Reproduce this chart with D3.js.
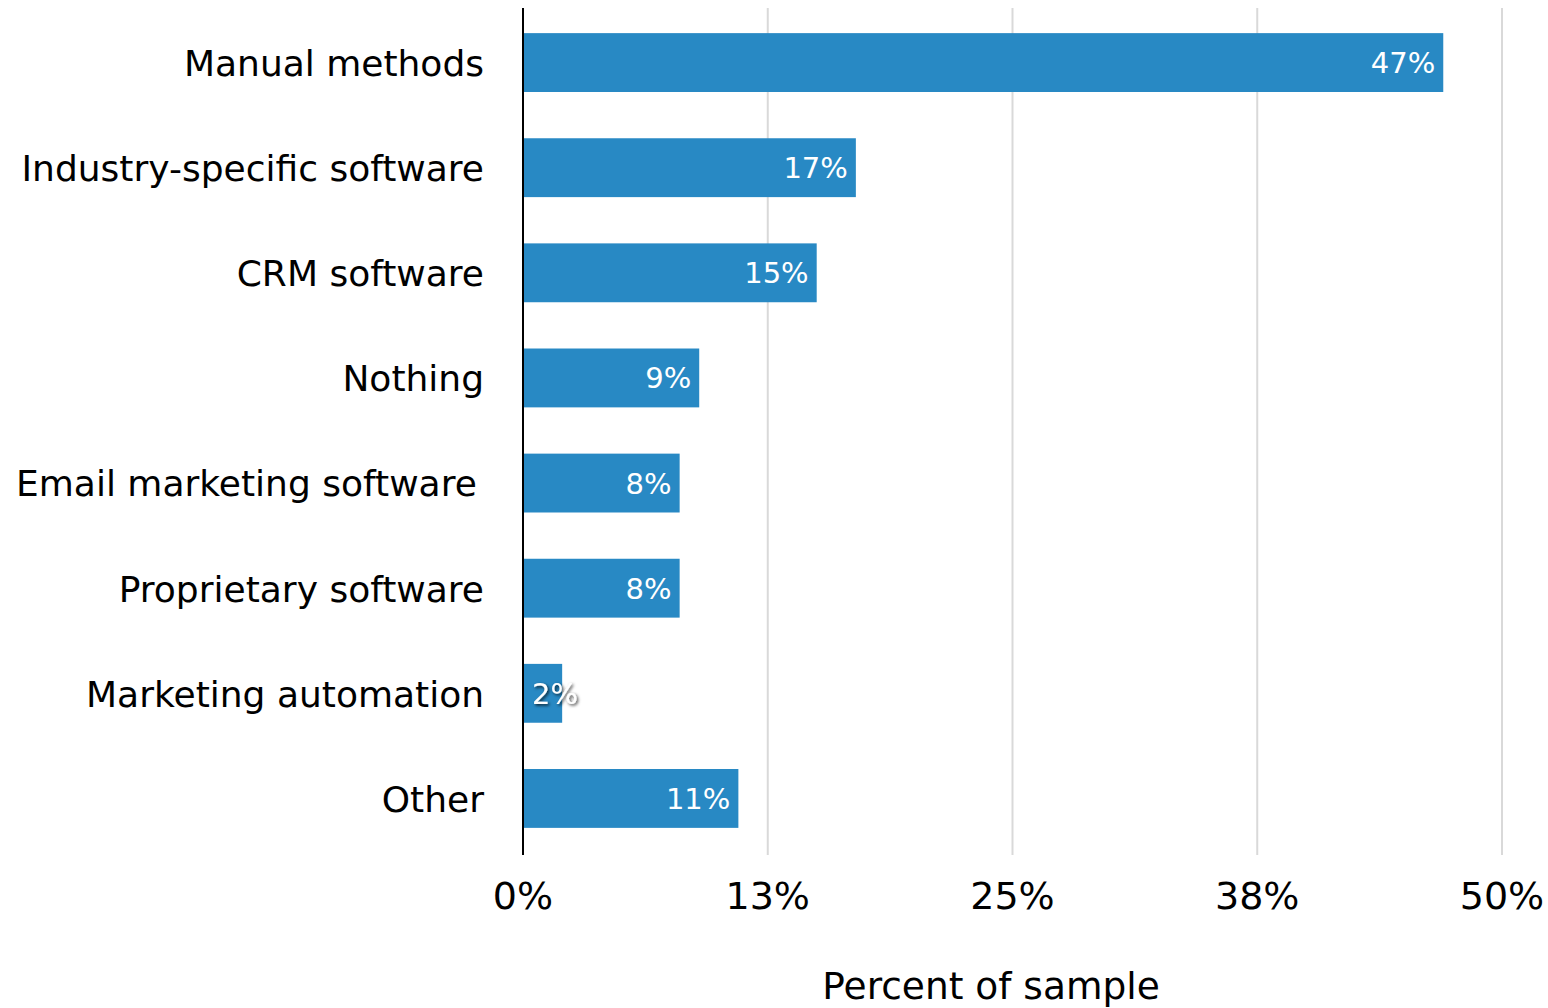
<!DOCTYPE html>
<html>
<head>
<meta charset="utf-8">
<script src="https://cdn.jsdelivr.net/npm/d3@7"></script>
<style>
  html, body { margin: 0; padding: 0; background: #fff; }
  svg { display: block; font-family: "DejaVu Sans", Verdana, sans-serif; }
</style>
</head>
<body>
<svg id="chart" width="1548" height="1008"></svg>
<script>
// Survey responses: tools used for managing customer data
const categories = [
  "Manual methods",
  "Industry-specific software",
  "CRM software",
  "Nothing",
  "Email marketing software\u2009",
  "Proprietary software",
  "Marketing automation",
  "Other"
];
const values = [47, 17, 15, 9, 8, 8, 2, 11];
const tickValues = [0, 12.5, 25, 37.5, 50];
const tickLabels = ["0%", "13%", "25%", "38%", "50%"];
const axisTitle = "Percent of sample";

const svg = d3.select("#chart");
const margin = { left: 523, right: 46, top: 8 };
const width = 1548 - margin.left - margin.right;
const plotBottom = 855;

const x = d3.scaleLinear().domain([0, 50]).range([margin.left, margin.left + width]);
const y = d3.scaleBand().domain(categories).range([10, 851]).paddingInner(0.44).paddingOuter(0.22);

// Shadow used for labels that spill outside a short bar
const defs = svg.append("defs");
const f = defs.append("filter").attr("id", "labelShadow").attr("x", "-20%").attr("y", "-30%").attr("width", "150%").attr("height", "170%");
f.append("feDropShadow").attr("dx", 1.5).attr("dy", 1.5).attr("stdDeviation", 1.5).attr("flood-color", "#000").attr("flood-opacity", 0.8);

// Vertical gridlines
svg.append("g")
  .selectAll("line")
  .data(tickValues.slice(1))
  .join("line")
  .attr("x1", d => x(d)).attr("x2", d => x(d))
  .attr("y1", margin.top).attr("y2", plotBottom)
  .attr("stroke", "#d9d9d9").attr("stroke-width", 2);

// Bars
svg.append("g")
  .selectAll("rect")
  .data(values)
  .join("rect")
  .attr("x", x(0))
  .attr("y", (d, i) => y(categories[i]))
  .attr("width", d => x(d) - x(0))
  .attr("height", y.bandwidth())
  .attr("fill", "#2889c4");

// Value labels: inside the bar end, or just past the axis for short bars
const fitsInside = d => x(d) - x(0) > 60;
svg.append("g")
  .selectAll("text")
  .data(values)
  .join("text")
  .attr("x", d => (fitsInside(d) ? x(d) - 8 : x(0) + 9))
  .attr("y", (d, i) => y(categories[i]) + y.bandwidth() / 2)
  .attr("dy", "0.36em")
  .attr("text-anchor", d => (fitsInside(d) ? "end" : "start"))
  .attr("fill", "#fff")
  .attr("font-size", 29)
  .attr("filter", d => (fitsInside(d) ? null : "url(#labelShadow)"))
  .text(d => d + "%");

// Category axis line
svg.append("line")
  .attr("x1", x(0)).attr("x2", x(0))
  .attr("y1", margin.top).attr("y2", plotBottom)
  .attr("stroke", "#000").attr("stroke-width", 2);

// Category labels
svg.append("g")
  .selectAll("text")
  .data(categories)
  .join("text")
  .attr("x", 484)
  .attr("y", d => y(d) + y.bandwidth() / 2)
  .attr("dy", "0.37em")
  .attr("text-anchor", "end")
  .attr("font-size", 36)
  .attr("fill", "#000")
  .style("white-space", "pre")
  .text(d => d);

// Value axis tick labels
svg.append("g")
  .selectAll("text")
  .data(tickValues)
  .join("text")
  .attr("x", d => x(d))
  .attr("y", 895)
  .attr("dy", "0.36em")
  .attr("text-anchor", "middle")
  .attr("font-size", 38)
  .attr("fill", "#000")
  .text((d, i) => tickLabels[i]);

// Axis title
svg.append("text")
  .attr("x", 991)
  .attr("y", 985)
  .attr("dy", "0.36em")
  .attr("text-anchor", "middle")
  .attr("font-size", 37.5)
  .attr("fill", "#000")
  .text(axisTitle);
</script>
</body>
</html>
